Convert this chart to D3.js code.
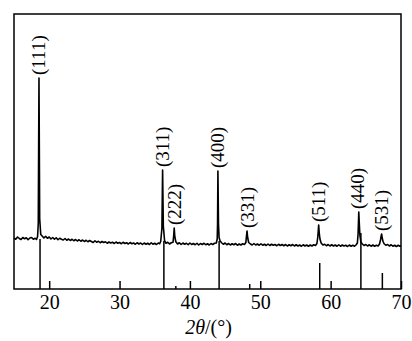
<!DOCTYPE html>
<html>
<head>
<meta charset="utf-8">
<script src="https://cdn.jsdelivr.net/npm/d3@7/dist/d3.min.js"></script>
<style>
  body { margin: 0; background: #fff; }
  svg { display: block; font-family: "Liberation Serif", "Times New Roman", serif; }
</style>
</head>
<body>
<div id="chart"></div>
<script>
const width = 412;
const height = 341;

// measured pattern: [2theta, counts]
const pattern = [
  [15.0, 204], [15.25, 199], [15.5, 208], [15.75, 202], [16.0, 198], [16.25, 206], [16.5, 201],
  [16.75, 205], [17.0, 197], [17.25, 204], [17.5, 206], [17.75, 199], [18.0, 203], [18.2, 198],
  [18.35, 210], [18.45, 262], [18.55, 844], [18.65, 282], [18.8, 218], [19.0, 212], [19.25, 204],
  [19.5, 211], [19.75, 203], [20.0, 208], [20.25, 200], [20.5, 206], [20.75, 199], [21.0, 205],
  [21.25, 197], [21.5, 203], [21.75, 199], [22.0, 196], [22.25, 202], [22.5, 195], [22.75, 200],
  [23.0, 194], [23.25, 199], [23.5, 193], [23.75, 198], [24.0, 192], [24.25, 197], [24.5, 191],
  [24.75, 196], [25.0, 190], [25.25, 195], [25.5, 189], [25.75, 194], [26.0, 190], [26.25, 186],
  [26.5, 193], [26.75, 187], [27.0, 191], [27.25, 185], [27.5, 190], [27.75, 186], [28.0, 189],
  [28.25, 183], [28.5, 188], [28.75, 184], [29.0, 187], [29.25, 182], [29.5, 188], [29.75, 183],
  [30.0, 186], [30.25, 181], [30.5, 187], [30.75, 182], [31.0, 185], [31.25, 180], [31.5, 186],
  [31.75, 181], [32.0, 184], [32.25, 179], [32.5, 185], [32.75, 180], [33.0, 184], [33.25, 178],
  [33.5, 184], [33.75, 179], [34.0, 183], [34.25, 178], [34.5, 185], [34.75, 179], [35.0, 183],
  [35.25, 178], [35.5, 184], [35.7, 181], [35.85, 190], [36.02, 242], [36.12, 476], [36.22, 252],
  [36.4, 193], [36.6, 183], [36.85, 187], [37.1, 180], [37.35, 185], [37.6, 187], [37.7, 215],
  [37.77, 244], [37.85, 210], [38.0, 189], [38.25, 180], [38.5, 185], [38.75, 178], [39.0, 184],
  [39.25, 179], [39.5, 183], [39.75, 177], [40.0, 184], [40.25, 178], [40.5, 182], [40.75, 177],
  [41.0, 183], [41.25, 176], [41.5, 182], [41.75, 178], [42.0, 183], [42.25, 177], [42.5, 181],
  [42.75, 176], [43.0, 182], [43.25, 178], [43.5, 183], [43.75, 184], [43.88, 200], [43.93, 260],
  [43.98, 472], [44.06, 262], [44.15, 205], [44.3, 192], [44.5, 185], [44.75, 179], [45.0, 184],
  [45.25, 177], [45.5, 182], [45.75, 176], [46.0, 181], [46.25, 177], [46.5, 182], [46.75, 175],
  [47.0, 180], [47.25, 176], [47.5, 181], [47.75, 178], [47.95, 186], [48.04, 212], [48.12, 232],
  [48.2, 207], [48.35, 186], [48.6, 180], [48.85, 176], [49.1, 182], [49.35, 176], [49.6, 180],
  [49.85, 175], [50.1, 181], [50.35, 175], [50.6, 179], [50.85, 174], [51.1, 180], [51.35, 174],
  [51.6, 179], [51.85, 175], [52.1, 178], [52.35, 173], [52.6, 179], [52.85, 174], [53.1, 178],
  [53.35, 173], [53.6, 178], [53.85, 172], [54.1, 177], [54.35, 173], [54.6, 178], [54.85, 172],
  [55.1, 177], [55.35, 172], [55.6, 176], [55.85, 171], [56.1, 177], [56.35, 172], [56.6, 176],
  [56.85, 171], [57.1, 176], [57.35, 172], [57.6, 177], [57.85, 174], [58.05, 182], [58.16, 205],
  [58.23, 228], [58.3, 256], [58.38, 224], [58.48, 200], [58.65, 184], [58.9, 176], [59.15, 179],
  [59.4, 173], [59.65, 178], [59.9, 172], [60.15, 177], [60.4, 172], [60.65, 176], [60.9, 171],
  [61.15, 177], [61.4, 171], [61.65, 176], [61.9, 172], [62.15, 175], [62.4, 170], [62.65, 176],
  [62.9, 171], [63.15, 175], [63.4, 171], [63.6, 176], [63.8, 184], [63.9, 220], [63.95, 262],
  [64.0, 308], [64.08, 258], [64.16, 214], [64.3, 188], [64.5, 180], [64.75, 174], [65.0, 178],
  [65.25, 172], [65.5, 177], [65.75, 171], [66.0, 176], [66.25, 171], [66.5, 175], [66.75, 172],
  [66.95, 180], [67.1, 198], [67.18, 212], [67.25, 220], [67.33, 204], [67.45, 190], [67.6, 181],
  [67.85, 175], [68.1, 178], [68.35, 172], [68.6, 177], [68.85, 171], [69.1, 175], [69.35, 170],
  [69.6, 175], [69.85, 171], [70.0, 173]
];

// indexed peaks (measured positions + top counts)
const peakLabels = ["(111)", "(311)", "(222)", "(400)", "(331)", "(511)", "(440)", "(531)"];
const peakAngles = [18.55, 36.12, 37.77, 43.98, 48.12, 58.3, 63.75, 67.25];
const peakTops = [844, 476, 244, 472, 232, 256, 308, 220];

// reference card sticks
const stickAngles = [18.7, 36.3, 38.0, 44.15, 48.5, 58.45, 64.3, 67.35];
const stickIntensity = [50, 48, 3, 48, 5, 26, 56, 16];

const xTicks = [20, 30, 40, 50, 60, 70];

const margin = { top: 14, right: 11, bottom: 52, left: 14 };
const plotW = width - margin.left - margin.right;
const plotH = height - margin.top - margin.bottom;

const svg = d3.select("#chart").append("svg")
    .attr("width", width)
    .attr("height", height);

const g = svg.append("g").attr("transform", `translate(${margin.left},${margin.top})`);

const x = d3.scaleLinear().domain([15, 70]).range([0, plotW]);
const y = d3.scaleLinear().domain([0, 1100]).range([plotH, 0]);
const yStick = d3.scaleLinear().domain([0, 100]).range([plotH, plotH - 100]);

// sticks
g.append("g").selectAll("line")
    .data(stickAngles)
    .enter().append("line")
    .attr("x1", d => x(d))
    .attr("x2", d => x(d))
    .attr("y1", plotH)
    .attr("y2", (d, i) => yStick(stickIntensity[i]))
    .attr("stroke", "#000")
    .attr("stroke-width", 1.5);

// pattern
const line = d3.line()
    .x(d => x(d[0]))
    .y(d => y(d[1]));

g.append("path")
    .datum(pattern)
    .attr("d", line)
    .attr("fill", "none")
    .attr("stroke", "#000")
    .attr("stroke-width", 1.6)
    .attr("stroke-linejoin", "round");

// peak labels
g.append("g").selectAll("text")
    .data(peakLabels)
    .enter().append("text")
    .attr("transform", (d, i) => `translate(${x(peakAngles[i])},${y(peakTops[i]) - 3}) rotate(-90)`)
    .attr("dominant-baseline", "central")
    .attr("font-size", 19)
    .text(d => d);

// axis
const xAxis = d3.axisBottom(x)
    .tickValues(xTicks)
    .tickFormat(d3.format("d"))
    .tickSizeInner(-8)
    .tickSizeOuter(0)
    .tickPadding(6);

const ax = g.append("g")
    .attr("transform", `translate(0,${plotH})`)
    .call(xAxis);
ax.select(".domain").remove();
ax.selectAll(".tick line").attr("stroke-width", 1.5);
ax.selectAll(".tick text")
    .attr("font-size", 20)
    .attr("font-family", "Liberation Serif, serif")
    .attr("fill", "#000");

// frame
g.append("rect")
    .attr("width", plotW)
    .attr("height", plotH)
    .attr("fill", "none")
    .attr("stroke", "#000")
    .attr("stroke-width", 1.5);

// axis title
const title = svg.append("text")
    .attr("x", margin.left + plotW / 2 + 1)
    .attr("y", 334)
    .attr("text-anchor", "middle")
    .attr("font-size", 20);
title.append("tspan").attr("font-style", "italic").text("2θ");
title.append("tspan").text("/(°)");
</script>
</body>
</html>
